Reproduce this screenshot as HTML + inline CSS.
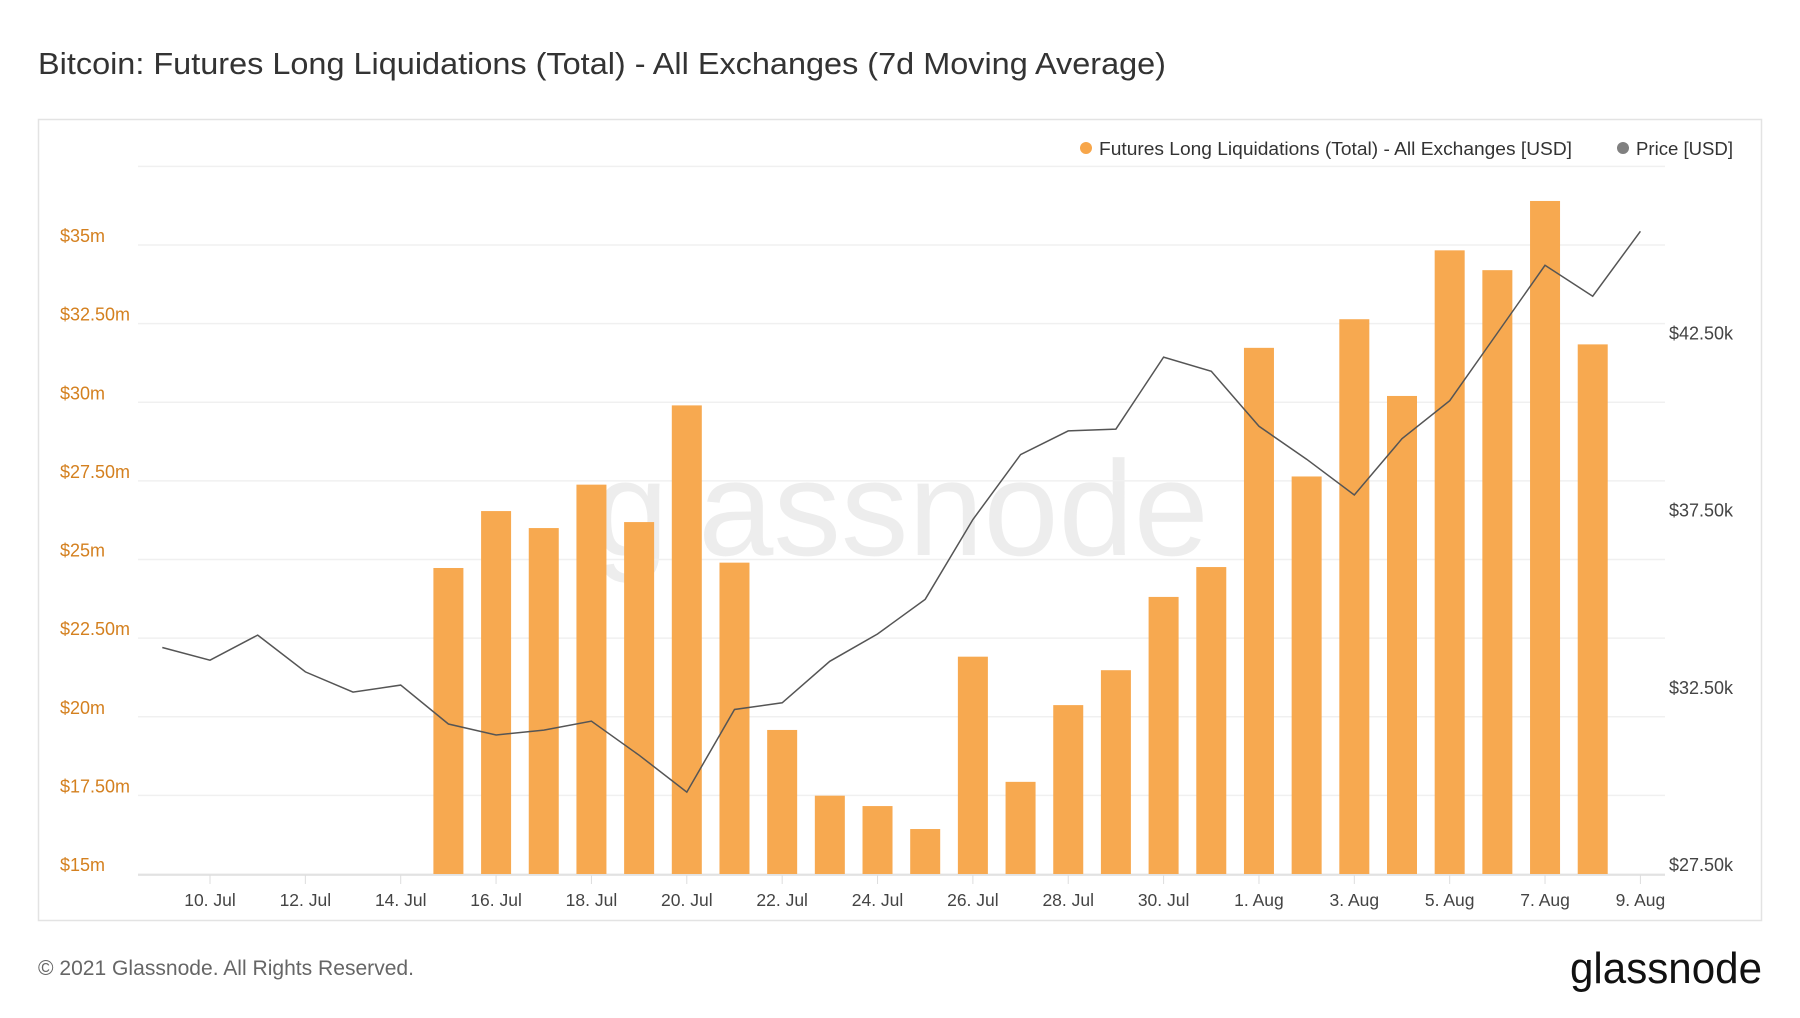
<!DOCTYPE html>
<html><head><meta charset="utf-8"><style>
body{margin:0;background:#fff;width:1800px;height:1013px;overflow:hidden;font-family:"Liberation Sans",sans-serif;}
</style></head><body>
<svg width="1800" height="1013" xmlns="http://www.w3.org/2000/svg">
<text x="38" y="74" font-size="31" fill="#333" textLength="1128" lengthAdjust="spacingAndGlyphs">Bitcoin: Futures Long Liquidations (Total) - All Exchanges (7d Moving Average)</text>
<rect x="38.5" y="119.5" width="1723" height="801" fill="#fff" stroke="#e3e3e3" stroke-width="1.5"/>
<text x="901" y="555" font-size="135" fill="#e8e8e8" text-anchor="middle" opacity="0.75">glassnode</text>
<g id="grid"></g><g id="bars"></g><g id="line"></g><g id="axes"></g>
<g>
<circle cx="1086" cy="148" r="6" fill="#f7a64a"/>
<text x="1099" y="155" font-size="18" fill="#333" textLength="473" lengthAdjust="spacingAndGlyphs">Futures Long Liquidations (Total) - All Exchanges [USD]</text>
<circle cx="1623" cy="148" r="6" fill="#808080"/>
<text x="1636" y="155" font-size="18" fill="#333" textLength="97" lengthAdjust="spacingAndGlyphs">Price [USD]</text>
</g>
<text x="38" y="975" font-size="21" fill="#666" textLength="376" lengthAdjust="spacingAndGlyphs">© 2021 Glassnode. All Rights Reserved.</text>
<text x="1762" y="983" font-size="44" fill="#111" text-anchor="end" textLength="192" lengthAdjust="spacingAndGlyphs">glassnode</text>
</svg>
<script>
const barDates=["15 Jul","16 Jul","17 Jul","18 Jul","19 Jul","20 Jul","21 Jul","22 Jul","23 Jul","24 Jul","25 Jul","26 Jul","27 Jul","28 Jul","29 Jul","30 Jul","31 Jul","1 Aug","2 Aug","3 Aug","4 Aug","5 Aug","6 Aug","7 Aug","8 Aug"];
const liquidations=[24.73,26.54,26.0,27.38,26.19,29.9,24.9,19.58,17.49,17.16,16.43,21.91,17.93,20.37,21.48,23.81,24.76,31.73,27.64,32.64,30.2,34.83,34.2,36.4,31.84];
const priceDates=["9 Jul","10 Jul","11 Jul","12 Jul","13 Jul","14 Jul","15 Jul","16 Jul","17 Jul","18 Jul","19 Jul","20 Jul","21 Jul","22 Jul","23 Jul","24 Jul","25 Jul","26 Jul","27 Jul","28 Jul","29 Jul","30 Jul","31 Jul","1 Aug","2 Aug","3 Aug","4 Aug","5 Aug","6 Aug","7 Aug","8 Aug","9 Aug"];
const price=[33.89,33.53,34.24,33.2,32.63,32.83,31.73,31.42,31.56,31.81,30.85,29.81,32.14,32.33,33.5,34.27,35.25,37.5,39.33,40.0,40.05,42.08,41.68,40.13,39.2,38.19,39.78,40.85,42.76,44.67,43.8,45.63];
const leftTicks=[15,17.5,20,22.5,25,27.5,30,32.5,35];
const leftLabels=["$15m","$17.50m","$20m","$22.50m","$25m","$27.50m","$30m","$32.50m","$35m"];
const rightTicks=[27.5,32.5,37.5,42.5];
const rightLabels=["$27.50k","$32.50k","$37.50k","$42.50k"];
const xTickDays=[1,3,5,7,9,11,13,15,17,19,21,23,25,27,29,31];
const xLabels=["10. Jul","12. Jul","14. Jul","16. Jul","18. Jul","20. Jul","22. Jul","24. Jul","26. Jul","28. Jul","30. Jul","1. Aug","3. Aug","5. Aug","7. Aug","9. Aug"];

const NS="http://www.w3.org/2000/svg";
const X0=138,X1=1665;
const xDay=d=>210+(d-1)*47.68; // d=0 -> 9 Jul
const yL=v=>874-(v-15)*31.45;
const yR=v=>874-(v-27.5)*35.45;
function mk(t,a,p){const e=document.createElementNS(NS,t);for(const k in a)e.setAttribute(k,a[k]);p.appendChild(e);return e;}
const grid=document.getElementById('grid'),bars=document.getElementById('bars'),line=document.getElementById('line'),axes=document.getElementById('axes');
for(let v=15;v<=37.5;v+=2.5){const g=mk('line',{x1:X0,x2:X1,y1:yL(v),y2:yL(v),stroke:'#f0f0f0','stroke-width':1.5},grid);

}
leftTicks.forEach((v,i)=>{const t=mk('text',{x:60,y:yL(v)-3,'font-size':18,fill:'#d4801f'},axes);t.textContent=leftLabels[i];

});
rightTicks.forEach((v,i)=>{const t=mk('text',{x:1669,y:yR(v)-3,'font-size':18,fill:'#444'},axes);t.textContent=rightLabels[i];

});
mk('line',{x1:X0,x2:X1,y1:875,y2:875,stroke:'#ddd','stroke-width':1.5},axes);
xTickDays.forEach((d,i)=>{mk('line',{x1:xDay(d),x2:xDay(d),y1:875,y2:884,stroke:'#ddd'},axes);
const t=mk('text',{x:xDay(d),y:906,'font-size':17.5,fill:'#444','text-anchor':'middle'},axes);t.textContent=xLabels[i];

});
liquidations.forEach((v,i)=>{const cx=xDay(6+i);const r=mk('rect',{x:cx-15,y:yL(v),width:30,height:874-yL(v),fill:'#f7a64a',opacity:0.97},bars);

});
const pts=price.map((v,i)=>xDay(i).toFixed(1)+','+yR(v).toFixed(1)).join(' ');
const pl=mk('polyline',{points:pts,fill:'none',stroke:'#555','stroke-width':1.5},line);


</script>
</body></html>
